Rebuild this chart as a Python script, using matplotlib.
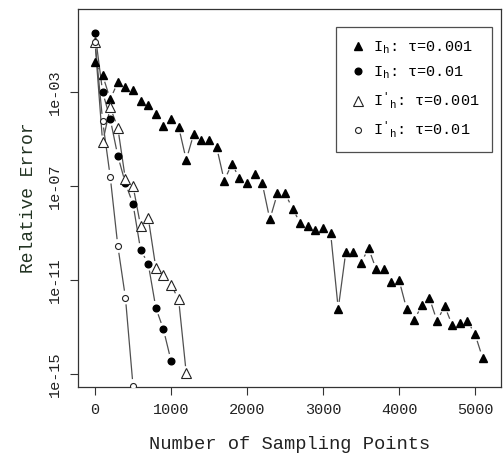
import numpy as np
import matplotlib
matplotlib.use("Agg")
import matplotlib.pyplot as plt
from matplotlib.lines import Line2D

plt.rcParams['font.family'] = ['Liberation Mono', 'DejaVu Sans Mono']
plt.rcParams['mathtext.fontset'] = 'custom'
plt.rcParams['mathtext.rm'] = 'Liberation Mono'
plt.rcParams['mathtext.it'] = 'Liberation Mono'

# Ih, tau = 0.001 (filled triangles)
x_ih_001 = [0, 100, 200, 300, 400, 500, 600, 700, 800, 900,
            1000, 1100, 1200, 1300, 1400, 1500, 1600, 1700, 1800, 1900,
            2000, 2100, 2200, 2300, 2400, 2500, 2600, 2700, 2800, 2900,
            3000, 3100, 3200, 3300, 3400, 3500, 3600, 3700, 3800, 3900,
            4000, 4100, 4200, 4300, 4400, 4500, 4600, 4700, 4800, 4900,
            5000, 5100]
err_ih_001 = [1.9e-2, 5.2e-3, 4.9e-4, 2.6e-3, 1.6e-3, 1.2e-3, 4.0e-4, 2.7e-4, 1.2e-4, 3.7e-5,
              6.9e-5, 3.3e-5, 1.3e-6, 1.7e-5, 9.1e-6, 9.1e-6, 4.5e-6, 1.7e-7, 8.7e-7, 2.2e-7,
              1.4e-7, 3.2e-7, 1.3e-7, 3.8e-9, 4.8e-8, 4.8e-8, 1.1e-8, 2.6e-9, 1.9e-9, 1.3e-9,
              1.7e-9, 9.8e-10, 6.0e-13, 1.6e-10, 1.6e-10, 5.5e-11, 2.2e-10, 2.8e-11, 2.8e-11, 8.5e-12,
              1.0e-11, 5.9e-13, 2.0e-13, 8.3e-13, 1.7e-12, 1.8e-13, 7.8e-13, 1.2e-13, 1.5e-13, 1.8e-13,
              4.9e-14, 4.8e-15]

# Ih, tau = 0.01 (filled circles)
x_ih_01 = [0, 100, 200, 300, 400, 500, 600, 700, 800, 900, 1000]
err_ih_01 = [3.3e-1, 1.0e-3, 7.1e-5, 1.9e-6, 1.3e-7, 1.7e-8, 1.9e-10, 4.9e-11, 6.6e-13, 7.9e-14, 3.7e-15]

# I'h, tau = 0.001 (open triangles)
x_ihp_001 = [0, 100, 200, 300, 400, 500, 600, 700, 800, 900, 1000, 1100, 1200]
err_ihp_001 = [1.3e-1, 7.2e-6, 2.2e-4, 3.0e-5, 1.9e-7, 1.0e-7, 2.0e-9, 4.5e-9, 3.3e-11, 1.6e-11,
               6.2e-12, 1.5e-12, 1.1e-15]

# I'h, tau = 0.01 (open circles)
x_ihp_01 = [0, 100, 200, 300, 400, 500]
err_ihp_01 = [1.4e-1, 6.0e-5, 2.5e-7, 2.8e-10, 1.8e-12, 3.1e-16]

labels = [r"$\mathrm{I_h}$: τ=0.001", r"$\mathrm{I_h}$: τ=0.01",
          r"$\mathrm{I}'_\mathrm{h}$: τ=0.001", r"$\mathrm{I}'_\mathrm{h}$: τ=0.01"]
xticks = [0, 1000, 2000, 3000, 4000, 5000]
yticks = [1e-3, 1e-7, 1e-11, 1e-15]
ytick_labels = ["1e-03", "1e-07", "1e-11", "1e-15"]

series = [
    (x_ih_001, err_ih_001, dict(marker='^', ms=5.8, mfc='black', mec='black')),
    (x_ih_01, err_ih_01, dict(marker='o', ms=4.8, mfc='black', mec='black')),
    (x_ihp_001, err_ihp_001, dict(marker='^', ms=6.8, mfc='white', mec='#222222', mew=0.8)),
    (x_ihp_01, err_ihp_01, dict(marker='o', ms=4.3, mfc='white', mec='#222222', mew=0.8)),
]

fig = plt.figure(figsize=(5.03, 4.57), dpi=100)
ax = fig.add_axes([78 / 503, 1 - 387 / 457, 422.5 / 503, 378 / 457])
ax.set_yscale('log')
ax.set_xlim(-224, 5335)
ax.set_ylim(10 ** -15.553, 10 ** 0.532)

# R style type="b": lines stop short of each point
gap = 7.5
for xs, ys, st in series:
    pts = ax.transData.transform(np.column_stack([xs, ys]))
    for p0, p1 in zip(pts[:-1], pts[1:]):
        d = p1 - p0
        L = np.hypot(*d)
        if L <= 2 * gap:
            continue
        u = d / L
        seg = ax.transData.inverted().transform(np.array([p0 + gap * u, p1 - gap * u]))
        ax.plot(seg[:, 0], seg[:, 1], color='#505050', lw=0.9, zorder=2)
    ax.plot(xs, ys, linestyle='none', zorder=3, **st)

ax.set_xticks(xticks)
ax.set_xticklabels([str(t) for t in xticks])
ax.set_yticks(yticks)
ax.set_yticklabels(ytick_labels, rotation=90, va='center')
ax.minorticks_off()
ax.tick_params(axis='both', direction='out', length=5.5, width=0.8, color='#333333',
               labelsize=11, labelcolor='#222222')
ax.tick_params(axis='x', pad=6)
ax.tick_params(axis='y', pad=6)
for sp in ax.spines.values():
    sp.set_color('#333333')
    sp.set_linewidth(0.9)

ax.set_xlabel("Number of Sampling Points", fontsize=13.5, color='#222222', labelpad=14)
ax.set_ylabel("Relative Error", fontsize=13, color='#223322', labelpad=8)

handles = [Line2D([], [], linestyle='none', **st) for _, _, st in series]
leg = fig.legend(handles, labels, loc='upper right', bbox_to_anchor=(492 / 503, 1 - 27 / 457),
                 fontsize=11, frameon=True, fancybox=False, handletextpad=0.4,
                 handlelength=1.2, labelspacing=0.6, borderpad=0.8, borderaxespad=0)
leg.get_frame().set_edgecolor('#222222')
leg.get_frame().set_linewidth(0.9)

fig.savefig("out.png", dpi=100)
